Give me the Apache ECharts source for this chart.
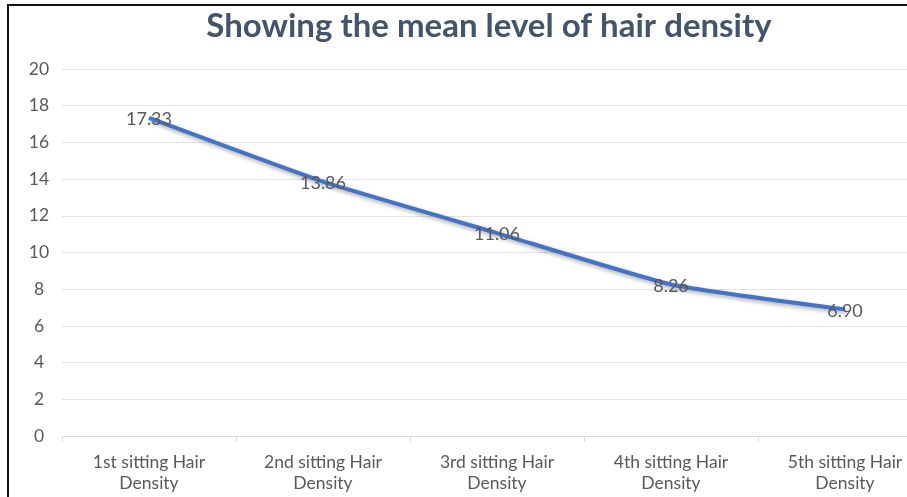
<!DOCTYPE html>
<html><head><meta charset="utf-8">
<script src="https://cdn.jsdelivr.net/npm/echarts@6/dist/echarts.min.js"></script>
<style>
html,body{margin:0;padding:0;background:#fff;overflow:hidden;width:907px;height:497px;}
#c{width:940px;height:497px;}
#frame{position:absolute;left:7px;top:4px;width:910px;height:500px;border-left:2px solid #111;border-top:2px solid #111;pointer-events:none;}
</style></head>
<body>
<div id="c"></div>
<div id="frame"></div>
<script>
const titleText = 'Showing the mean level of hair density';
const categories = ['1st sitting Hair\nDensity','2nd sitting Hair\nDensity','3rd sitting Hair\nDensity','4th sitting Hair\nDensity','5th sitting Hair\nDensity'];
const meanValues = [17.33, 13.86, 11.06, 8.26, 6.90];
const yTicks = {min:0, max:20, interval:2};

const chart = echarts.init(document.getElementById('c'));
chart.setOption({
  animation:false,
  title:{text:titleText,left:484,top:5,textAlign:'center',
    textStyle:{fontFamily:'Lato',fontWeight:'bold',fontSize:33,color:'#44546A'}},
  grid:{left:62,right:8,top:69,bottom:61,containLabel:false},
  xAxis:{type:'category',data:categories,boundaryGap:true,
    axisLine:{lineStyle:{color:'#d9d9d9'}},
    axisTick:{show:true,length:6,lineStyle:{color:'#d9d9d9'}},
    axisLabel:{color:'#595959',fontFamily:'Lato',fontSize:17.5,lineHeight:21,margin:16,interval:0}},
  yAxis:{type:'value',min:yTicks.min,max:yTicks.max,interval:yTicks.interval,
    axisLine:{show:false},axisTick:{show:false},
    splitLine:{lineStyle:{color:'#e3e3e3'}},
    axisLabel:{color:'#595959',fontFamily:'Lato',fontSize:17.5,margin:23,align:'center'}},
  series:[{type:'line',data:meanValues,smooth:0.15,symbol:'circle',symbolSize:1,showSymbol:true,
    itemStyle:{color:'rgba(0,0,0,0)'},
    lineStyle:{color:'#4472C4',width:4,shadowColor:'rgba(0,0,0,0.35)',shadowBlur:4,shadowOffsetX:1,shadowOffsetY:2},
    label:{show:true,position:'top',distance:0,offset:[0,11],formatter:p=>p.value.toFixed(2),color:'#595959',fontFamily:'Lato',fontSize:18}}]
});
</script>
</body></html>
